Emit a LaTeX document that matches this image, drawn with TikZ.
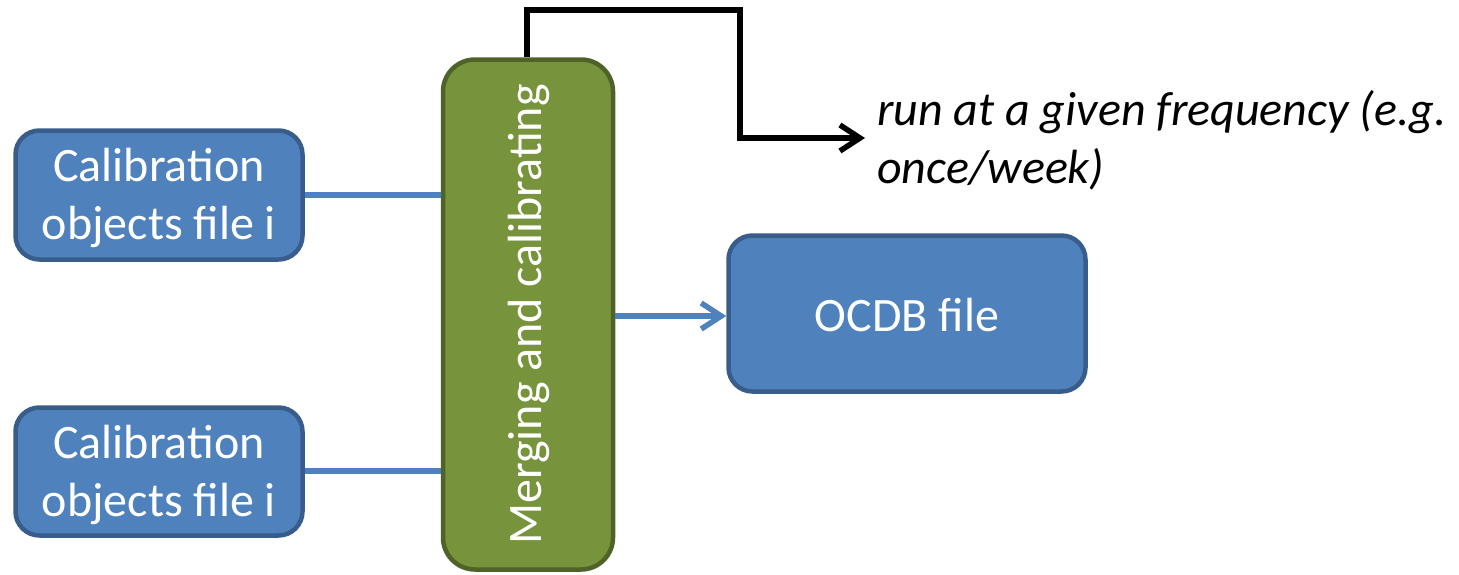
\documentclass[tikz,border=0pt]{standalone}
\usepackage{fontspec}
\setmainfont{Carlito}
\usetikzlibrary{arrows.meta}
\definecolor{bfill}{HTML}{4F81BD}
\definecolor{bdraw}{HTML}{385D8A}
\definecolor{gfill}{HTML}{77933C}
\definecolor{gdraw}{HTML}{4F6228}
\tikzset{
  bluebox/.style={draw=bdraw, fill=bfill, line width=4.5pt, rounded corners=24pt, inner sep=0pt},
  greenbox/.style={draw=gdraw, fill=gfill, line width=4.5pt, rounded corners=32pt, inner sep=0pt},
  boxtext/.style={text=white, align=center, inner sep=0pt, font=\fontsize{48}{58}\selectfont},
  link/.style={draw=bfill, line width=5.5pt},
  blackline/.style={draw=black, line width=5.5pt, line cap=butt},
}
\begin{document}
\begin{tikzpicture}[x=1pt,y=-1pt]
\useasboundingbox (0,0) rectangle (1459,574);
\node[bluebox, minimum width=287pt, minimum height=129pt] (c1) at (159,195) {};
\node[boxtext] (c1t) at ([yshift=-3pt]c1.center) {Calibration\\objects file i};
\node[bluebox, minimum width=287pt, minimum height=128pt] (c2) at (159,471.5) {};
\node[boxtext] (c2t) at ([yshift=-3pt]c2.center) {Calibration\\objects file i};
\node[greenbox, minimum width=170pt, minimum height=510pt] (m) at (528,314.5) {};
\node[boxtext, rotate=90] (mt) at (529,314.5) {Merging and calibrating};
\node[bluebox, minimum width=357pt, minimum height=156pt] (o) at (907,313.5) {};
\node[boxtext] (ot) at ([yshift=-1pt]o.center) {OCDB file};
\draw[link] (c1.east |- 0,195) -- (m.west |- 0,195);
\draw[link] (c2.east |- 0,471) -- (m.west |- 0,471);
\draw[link, -{Straight Barb[length=20pt, width=26pt, line width=5.5pt]}] (m.east |- 0,316) -- (o.west |- 0,316);
\coordinate (tip) at (865,138);
\draw[blackline, -{Straight Barb[length=20pt, width=26pt, line width=5.5pt]}] (m.north -| 527,0) |- (740,10) |- (tip);
\node[anchor=west, align=left, inner sep=0pt, font=\fontsize{48}{58}\selectfont\itshape] (note) at (877,140) {run at a given frequency (e.g.\\once/week)};
\end{tikzpicture}
\end{document}
